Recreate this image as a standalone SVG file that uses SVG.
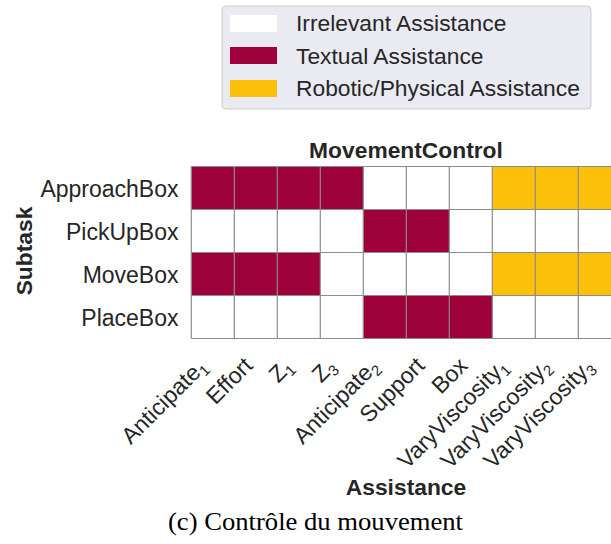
<svg xmlns="http://www.w3.org/2000/svg" width="611" height="544" viewBox="0 0 611 544">
<style>
  text { font-family: "Liberation Sans", Arial, sans-serif; fill: #262626; }
  .lg { font-size: 22.8px; }
  .tk { font-size: 23px; }
  .bold { font-size: 22.8px; font-weight: bold; }
  .cap { font-family: "Liberation Serif", "Times New Roman", serif; font-size: 25.5px; fill: #000; }
  .w { fill: #ffffff; }
  .r { fill: #9e0039; }
  .y { fill: #fcc00b; }
  .grid line { stroke: #8c8c8c; stroke-width: 1.2; }
</style>
<rect width="611" height="544" fill="#ffffff"/>

<g id="legend">
  <rect x="222" y="6" width="369" height="103" rx="4" fill="#eaeaf2" stroke="#cccccc" stroke-width="1"/>
  <rect class="w" x="230" y="15" width="47" height="17"/>
  <rect class="r" x="230" y="47" width="47" height="17"/>
  <rect class="y" x="230" y="80" width="47" height="17"/>
  <text class="lg" x="296" y="31">Irrelevant Assistance</text>
  <text class="lg" x="296" y="64">Textual Assistance</text>
  <text class="lg" x="296" y="96">Robotic/Physical Assistance</text>
</g>

<text id="title" class="bold" x="406" y="158.3" text-anchor="middle">MovementControl</text>

<g id="cells">
  <!-- ApproachBox -->
  <rect class="r" x="191.3" y="166.5" width="172" height="43"/>
  <rect class="w" x="363.3" y="166.5" width="129" height="43"/>
  <rect class="y" x="492.3" y="166.5" width="129" height="43"/>
  <!-- PickUpBox -->
  <rect class="w" x="191.3" y="209.5" width="430" height="43"/>
  <rect class="r" x="363.3" y="209.5" width="86" height="43"/>
  <!-- MoveBox -->
  <rect class="r" x="191.3" y="252.5" width="129" height="43"/>
  <rect class="w" x="320.3" y="252.5" width="172" height="43"/>
  <rect class="y" x="492.3" y="252.5" width="129" height="43"/>
  <!-- PlaceBox -->
  <rect class="w" x="191.3" y="295.5" width="430" height="43"/>
  <rect class="r" x="363.3" y="295.5" width="129" height="43"/>
</g>

<g id="connectors" class="grid">
  <line x1="191.3" y1="166.5" x2="621.3" y2="166.5"/>
  <line x1="191.3" y1="209.5" x2="621.3" y2="209.5"/>
  <line x1="191.3" y1="252.5" x2="621.3" y2="252.5"/>
  <line x1="191.3" y1="295.5" x2="621.3" y2="295.5"/>
  <line x1="191.3" y1="338.5" x2="621.3" y2="338.5"/>
  <line x1="191.3" y1="166.5" x2="191.3" y2="338.5"/>
  <line x1="234.3" y1="166.5" x2="234.3" y2="338.5"/>
  <line x1="277.3" y1="166.5" x2="277.3" y2="338.5"/>
  <line x1="320.3" y1="166.5" x2="320.3" y2="338.5"/>
  <line x1="363.3" y1="166.5" x2="363.3" y2="338.5"/>
  <line x1="406.3" y1="166.5" x2="406.3" y2="338.5"/>
  <line x1="449.3" y1="166.5" x2="449.3" y2="338.5"/>
  <line x1="492.3" y1="166.5" x2="492.3" y2="338.5"/>
  <line x1="535.3" y1="166.5" x2="535.3" y2="338.5"/>
  <line x1="578.3" y1="166.5" x2="578.3" y2="338.5"/>
</g>

<g id="ylabels">
  <text class="tk" x="178.5" y="196.5" text-anchor="end">ApproachBox</text>
  <text class="tk" x="178.5" y="239.5" text-anchor="end">PickUpBox</text>
  <text class="tk" x="178.5" y="282.5" text-anchor="end">MoveBox</text>
  <text class="tk" x="178.5" y="325.5" text-anchor="end">PlaceBox</text>
  <text class="bold" transform="translate(31.5,251) rotate(-90)" text-anchor="middle">Subtask</text>
</g>

<g id="xlabels">
  <text class="tk" transform="translate(208,368) rotate(-45)" text-anchor="end">Anticipate<tspan dy="4.5" font-size="15">1</tspan></text>
  <text class="tk" transform="translate(254,367) rotate(-45)" text-anchor="end">Effort</text>
  <text class="tk" transform="translate(294,368) rotate(-45)" text-anchor="end">Z<tspan dy="4.5" font-size="15">1</tspan></text>
  <text class="tk" transform="translate(337,368) rotate(-45)" text-anchor="end">Z<tspan dy="4.5" font-size="15">3</tspan></text>
  <text class="tk" transform="translate(380,368) rotate(-45)" text-anchor="end">Anticipate<tspan dy="4.5" font-size="15">2</tspan></text>
  <text class="tk" transform="translate(426,367) rotate(-45)" text-anchor="end">Support</text>
  <text class="tk" transform="translate(469,367) rotate(-45)" text-anchor="end">Box</text>
  <text class="tk" transform="translate(509,368) rotate(-45)" text-anchor="end">VaryViscosity<tspan dy="4.5" font-size="15">1</tspan></text>
  <text class="tk" transform="translate(552,368) rotate(-45)" text-anchor="end">VaryViscosity<tspan dy="4.5" font-size="15">2</tspan></text>
  <text class="tk" transform="translate(595,368) rotate(-45)" text-anchor="end">VaryViscosity<tspan dy="4.5" font-size="15">3</tspan></text>
  <text class="bold" x="406" y="495" text-anchor="middle">Assistance</text>
</g>

<text id="caption" class="cap" x="168" y="530" textLength="295" lengthAdjust="spacingAndGlyphs">(c) Contrôle du mouvement</text>
</svg>
